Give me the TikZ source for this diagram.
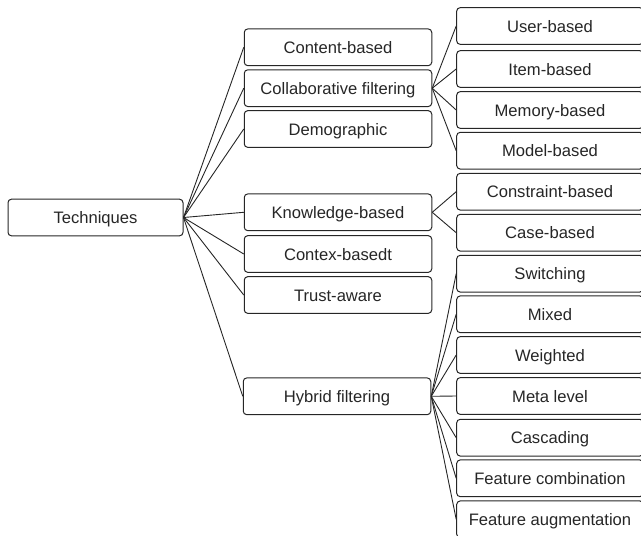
\documentclass[tikz,border=0pt]{standalone}
\usepackage{fontspec}
\setmainfont{Liberation Sans}
\definecolor{ln}{HTML}{262626}
\begin{document}
\begin{tikzpicture}[x=1pt,y=-1pt,
  box/.style={draw=ln, line width=1pt, rounded corners=3.5pt, minimum height=36.7pt, inner sep=0pt,
    text height=12pt, text depth=0pt, font=\fontsize{16.6}{20}\selectfont, text=black!85},
  cone/.style={box, minimum width=175pt},
  ctwo/.style={box, minimum width=187.5pt},
  cthree/.style={box, minimum width=186.6pt},
  link/.style={draw=ln, line width=0.9pt}]
\useasboundingbox (0,0) rectangle (641,536);
\clip (0,0) rectangle (641,536);
\node[cone] (tech) at (95.5,217.5) {Techniques};
\node[ctwo] (cont) at (338,47.3) {Content-based};
\node[ctwo] (coll) at (338,88.2) {Collaborative filtering};
\node[ctwo] (demo) at (338,129) {Demographic};
\node[ctwo] (know) at (338,212.3) {Knowledge-based};
\node[ctwo] (ctx) at (338,254) {Contex-basedt};
\node[ctwo] (trust) at (338,295) {Trust-aware};
\node[ctwo] (hyb) at (337,396.3) {Hybrid filtering};
\node[cthree] (user) at (550,26) {User-based};
\node[cthree] (item) at (550,69) {Item-based};
\node[cthree] (mem) at (550,110) {Memory-based};
\node[cthree] (model) at (550,150.7) {Model-based};
\node[cthree] (cons) at (550,191.7) {Constraint-based};
\node[cthree] (case) at (550,232.7) {Case-based};
\node[cthree] (swit) at (550,273.7) {Switching};
\node[cthree] (mixed) at (550,314.3) {Mixed};
\node[cthree] (weig) at (550,355) {Weighted};
\node[cthree] (meta) at (550,396) {Meta level};
\node[cthree] (casc) at (550,437.7) {Cascading};
\node[cthree] (fcomb) at (550,478.3) {Feature combination};
\node[cthree] (faug) at (550,519.3) {Feature augmentation};
\foreach \t in {cont,coll,demo,know,ctx,trust,hyb}
  \draw[link] (tech.east) -- (\t.west);
\foreach \t in {user,item,mem,model}
  \draw[link] (coll.east) -- (\t.west);
\foreach \t in {cons,case}
  \draw[link] (know.east) -- (\t.west);
\foreach \t in {swit,mixed,weig,meta,casc,fcomb,faug}
  \draw[link] (hyb.east) -- (\t.west);
\end{tikzpicture}
\end{document}
